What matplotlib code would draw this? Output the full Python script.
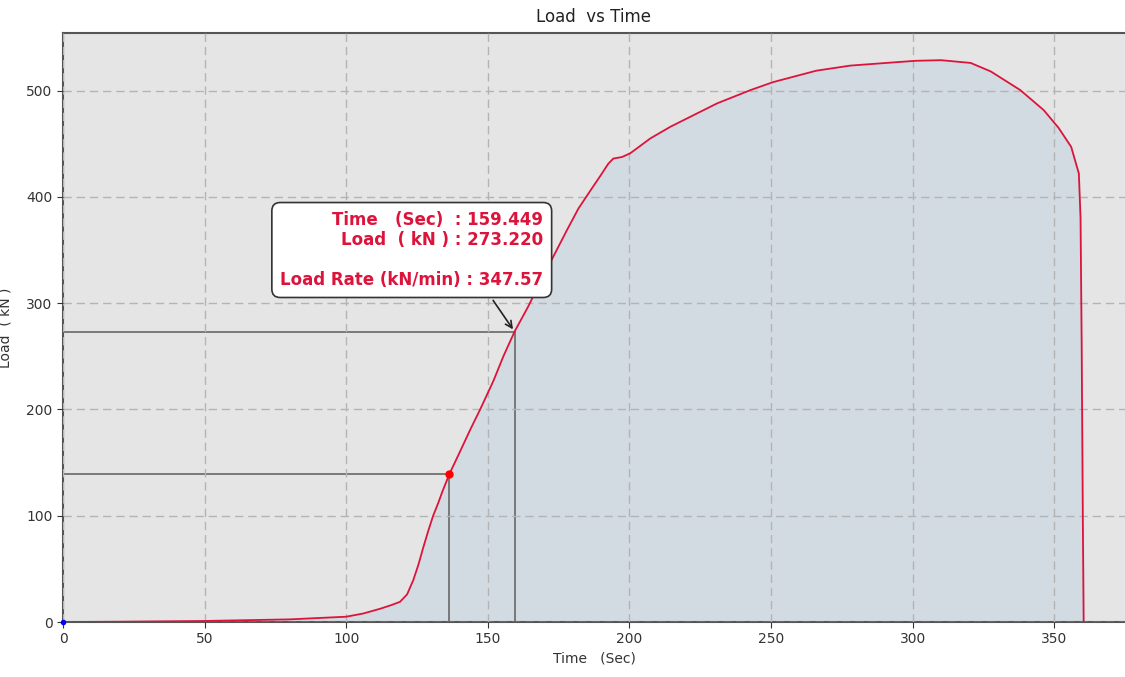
import numpy as np
import matplotlib
matplotlib.use("Agg")
import matplotlib.pyplot as plt

# load curve
time_s = [0, 20, 50, 80, 100, 106, 112, 116, 119, 121.5, 123.7, 125.5, 127.2,
          129, 130.7, 132.5, 134, 136.4, 140.3, 143.8, 147.3, 152, 155.5,
          159.449, 164.3, 168, 173.1, 178, 182, 185.5, 189.8, 192.5, 194.3,
          197.4, 200.3, 207.4, 214.5, 219, 231, 242.8, 250.8, 266, 278,
          295.8, 301, 310, 320.5, 327.6, 338, 346.3, 351.6, 356, 358.7,
          359.3, 359.7, 360.1, 360.4]
load_kn = [0, 0.3, 1, 2.5, 5, 8, 12.5, 16, 19, 26, 39.5, 54, 70, 86, 100,
           112, 123, 139, 161, 181, 200, 227, 250, 273.22, 297, 317, 343.6,
           369, 389, 403, 420, 431, 436, 437.5, 441, 455, 466, 472, 488,
           500.5, 508, 518.7, 523.5, 527, 528, 528.6, 526, 518, 500.5, 481.6,
           464.7, 447, 422, 380, 260, 100, 0]

sel_time = 159.449
sel_load = 273.220
load_rate = 347.57
mark_time = 136.4
mark_load = 139

fig = plt.figure(figsize=(11.25, 6.77), dpi=100)
ax = fig.add_axes([0.056, 0.0812, 0.944, 0.8698])
ax.set_facecolor("#e5e5e5")

ax.fill_between(time_s, load_kn, 0, color="#d3dbe2", zorder=1)
ax.plot(time_s, load_kn, color="#dc143c", lw=1.3, zorder=3)

# cursor lines
ax.plot([0, sel_time], [sel_load, sel_load], color="#707070", lw=1.3, zorder=2)
ax.plot([sel_time, sel_time], [0, sel_load], color="#707070", lw=1.3, zorder=2)
ax.plot([0, mark_time], [mark_load, mark_load], color="#707070", lw=1.3, zorder=2)
ax.plot([mark_time, mark_time], [0, mark_load], color="#707070", lw=1.3, zorder=2)
ax.plot([mark_time], [mark_load], "o", color="red", ms=5, zorder=4)
ax.plot([0], [0], "o", color="blue", ms=3, zorder=4, clip_on=False)

txt = ("Time   (Sec)  : %.3f\nLoad  ( kN ) : %.3f\n\nLoad Rate (kN/min) : %.2f"
       % (sel_time, sel_load, load_rate))
ax.annotate(txt, xy=(sel_time, sel_load), xytext=(169.6, 350),
            ha="right", va="center", color="#dc143c", fontsize=12,
            fontweight="bold", linespacing=1.15,
            bbox=dict(boxstyle="round,pad=0.5", fc="white", ec="#333333", lw=1.2),
            arrowprops=dict(arrowstyle="->", color="#222222", lw=1.2,
                            relpos=(0.78, 0)),
            zorder=5)

ax.set_xlim(0, 375)
ax.set_ylim(0, 554)
ax.set_xticks([0, 50, 100, 150, 200, 250, 300, 350])
ax.set_yticks([0, 100, 200, 300, 400, 500])
ax.grid(True, color="#b4b4b4", ls=(0, (6, 3.5)), lw=1)
ax.set_axisbelow(False)
for g in ax.get_xgridlines() + ax.get_ygridlines():
    g.set_zorder(1.5)

for side in ["left", "bottom", "top"]:
    ax.spines[side].set_color("#555555")
    ax.spines[side].set_linewidth(1.5)
ax.spines["right"].set_visible(False)
ax.tick_params(colors="#333333", labelsize=10, length=4)

ax.set_title("Load  vs Time", fontsize=12, color="#222222", pad=8)
ax.set_xlabel("Time   (Sec)", fontsize=10, color="#333333")
ax.set_ylabel("Load  ( kN )", fontsize=10, color="#333333", labelpad=10)

fig.savefig("out.png", dpi=100)
